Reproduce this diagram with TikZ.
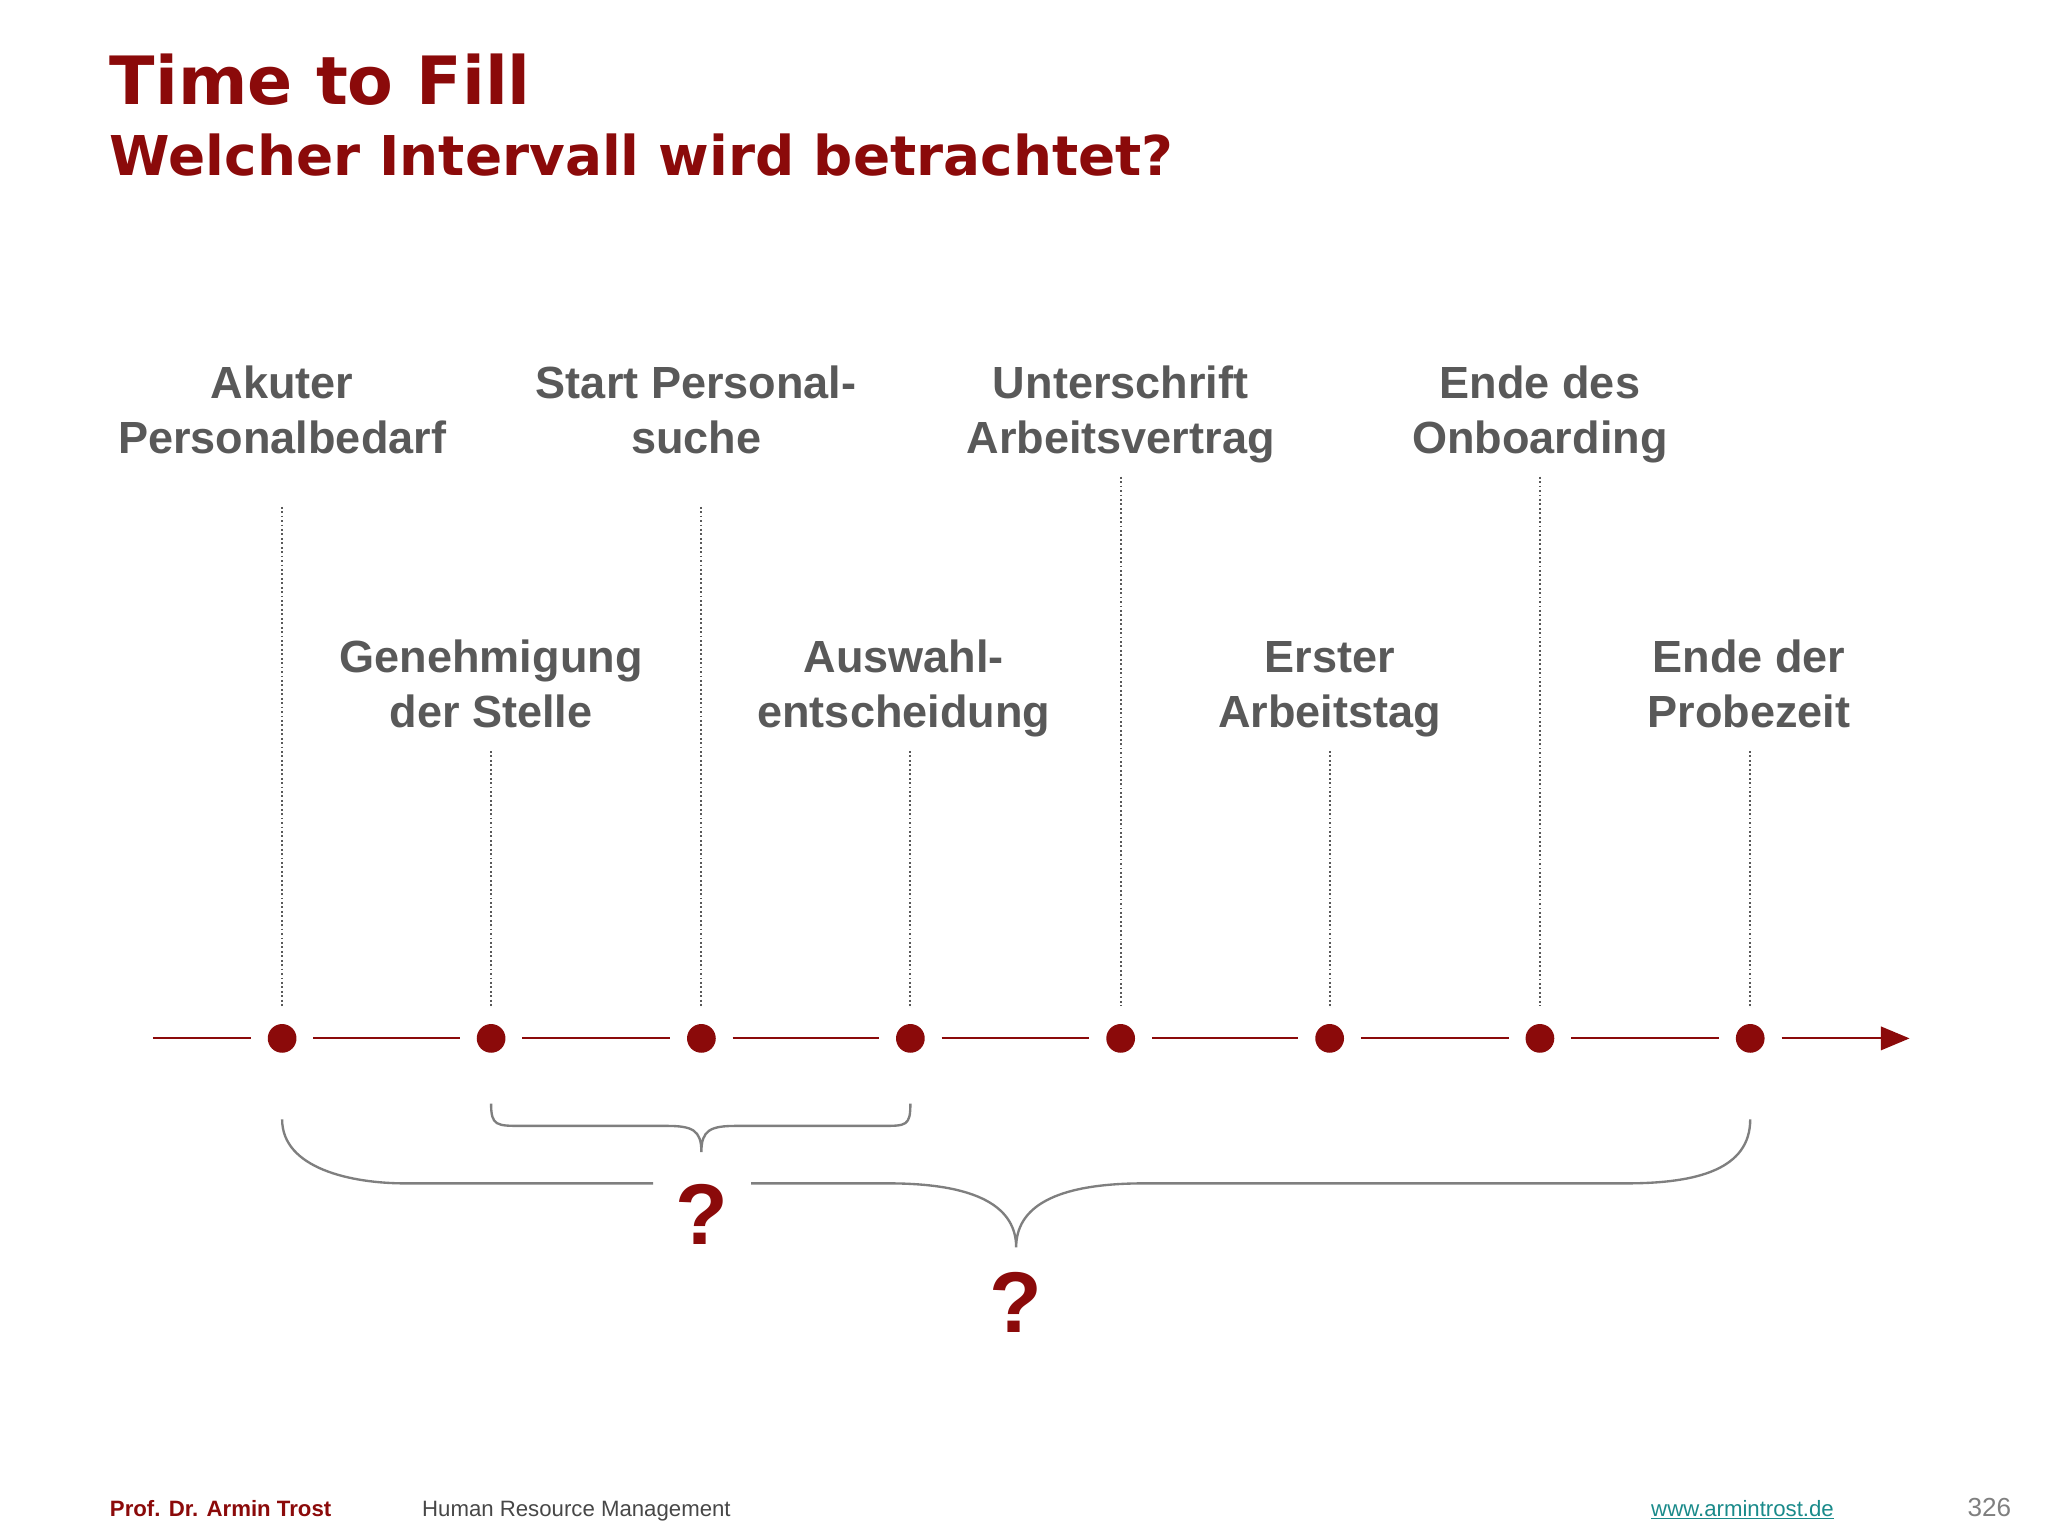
\documentclass[tikz,border=0pt]{standalone}
\usepackage{fontspec}
\setmainfont{Liberation Sans}
\newfontfamily\heavy{DejaVu Sans}
\usetikzlibrary{arrows.meta}
\definecolor{dred}{HTML}{8B0A0A}
\definecolor{tgray}{HTML}{595959}
\definecolor{lgray}{HTML}{7F7F7F}
\definecolor{link}{HTML}{1A8A8A}
\begin{document}
\begin{tikzpicture}[x=1pt,y=-1pt,
  lbl/.style={font=\fontsize{34.5}{42}\selectfont\bfseries,text=tgray,align=center,anchor=base,inner sep=0},
  dot/.style={circle,fill=dred,minimum size=22pt,inner sep=0},
  tick/.style={dotted,tgray,line width=1.4pt},
  seg/.style={dred,line width=1.6pt},
  brace/.style={lgray,line width=1.8pt},
  qm/.style={font=\fontsize{66}{70}\selectfont\bfseries,text=dred,inner sep=0}]
\useasboundingbox (0,0) rectangle (1568,1176);
\node[anchor=base west,inner sep=0,text=dred,font=\heavy\fontsize{51}{60}\selectfont\bfseries] (t1) at (84,80) {Time to Fill};
\node[anchor=base west,inner sep=0,text=dred,font=\heavy\fontsize{42}{44}\selectfont\bfseries] (t2) at (84,134) {Welcher Intervall wird betrachtet?};
% dots
\foreach \n/\x in {1/216,2/376,3/537,4/697,5/858,6/1018,7/1179,8/1340}
  \node[dot] (d\n) at (\x,795) {};
\coordinate (s0) at (117,795);
\coordinate (s9) at (1462,795);
\draw[seg] (s0) -- ([xshift=-24pt]d1.center);
\foreach \a/\b in {1/2,2/3,3/4,4/5,5/6,6/7,7/8}
  \draw[seg] ([xshift=24pt]d\a.center) -- ([xshift=-24pt]d\b.center);
\draw[seg,-{Triangle[length=22pt,width=18pt]}] ([xshift=24pt]d8.center) -- (s9);
% labels
\node[lbl] (l1) at (216,347) {Akuter\\Personalbedarf};
\node[lbl] (l3) at (533,347) {Start Personal-\\suche};
\node[lbl] (l5) at (858,347) {Unterschrift\\Arbeitsvertrag};
\node[lbl] (l7) at (1179,347) {Ende des\\Onboarding};
\node[lbl] (l2) at (376,557) {Genehmigung\\der Stelle};
\node[lbl] (l4) at (692,557) {Auswahl-\\entscheidung};
\node[lbl] (l6) at (1018,557) {Erster\\Arbeitstag};
\node[lbl] (l8) at (1339,557) {Ende der\\Probezeit};
\foreach \n/\y in {1/388,3/388,5/365,7/365,2/575,4/575,6/575,8/575}
  \draw[tick] (d\n.center |- 0,\y) -- ([yshift=25pt]d\n.center);
% braces
\draw[brace] (376,845) .. controls (376,862) and (380,862) .. (400,862) -- (510,862)
  .. controls (530,862) and (537,865) .. (537,882)
  .. controls (537,865) and (544,862) .. (564,862) -- (675,862)
  .. controls (694,862) and (697,862) .. (697,845);
\draw[brace] (216,857) .. controls (216,895) and (270,906) .. (310,906) -- (500,906);
\draw[brace] (575,906) -- (680,906) .. controls (750,906) and (778,925) .. (778,955)
  .. controls (778,925) and (806,906) .. (876,906) -- (1245,906)
  .. controls (1300,906) and (1340,895) .. (1340,857);
\node[qm] (q1) at (537,930) {?};
\node[qm] (q2) at (778,997) {?};
% footer
\node[anchor=base west,inner sep=0,text=dred,font=\fontsize{17}{18}\selectfont\bfseries] (f1) at (84,1161) {Prof. Dr. Armin Trost};
\node[anchor=base west,inner sep=0,text=tgray!80!black,font=\fontsize{17}{18}\selectfont] (f2) at (323,1161) {Human Resource Management};
\node[anchor=base west,inner sep=0,text=link,font=\fontsize{17}{18}\selectfont] (f3) at (1264,1161) {\underline{www.armintrost.de}};
\node[anchor=base east,inner sep=0,text=lgray,font=\fontsize{20}{20}\selectfont] (f4) at (1540,1161) {326};
\end{tikzpicture}
\end{document}
